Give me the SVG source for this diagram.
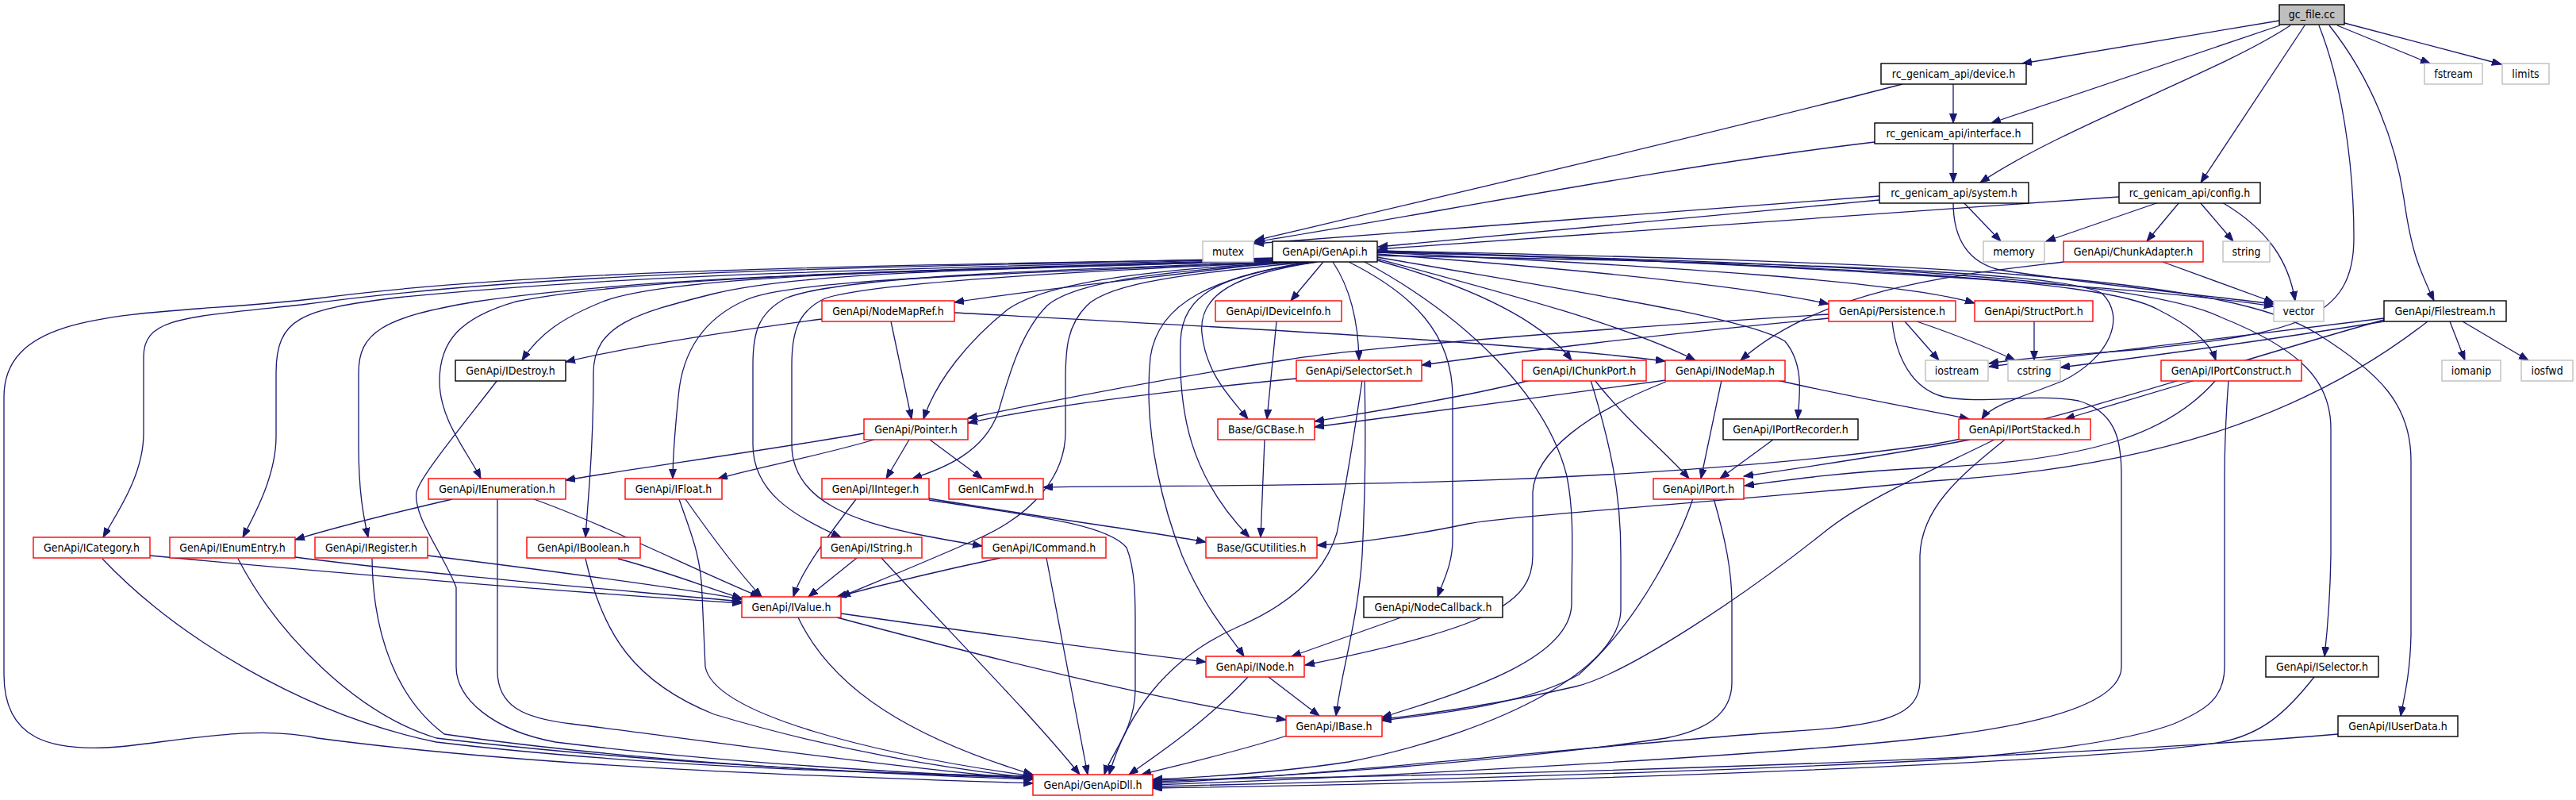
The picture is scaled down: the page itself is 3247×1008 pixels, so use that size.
<svg xmlns="http://www.w3.org/2000/svg" width="3247" height="1008" viewBox="0 0 3247 1008">
<style>
.bg{fill:#ffffff}
.n rect{fill:#ffffff;stroke-width:1.4}
.red rect{stroke:#ff0000}
.blk rect{stroke:#000000}
.gry rect{stroke:#bfbfbf}
.root rect{fill:#bfbfbf;stroke:#000000}
.n text{font-family:'DejaVu Sans Condensed','DejaVu Sans',sans-serif;font-stretch:condensed;font-size:14px;fill:#000000;text-anchor:middle}
.e path{fill:none;stroke:#191970;stroke-width:1.3;marker-end:url(#ah)}
</style>
<defs>
<marker id="ah" markerUnits="userSpaceOnUse" markerWidth="13" markerHeight="10" refX="12" refY="4.5" orient="auto">
<path d="M0,0 L12,4.5 L0,9 z" fill="#191970" stroke="#191970" stroke-width="1"/>
</marker>
</defs>
<rect class="bg" x="0" y="0" width="3247" height="1008"/>
<g id="edges" class="e">
<path d="M2873,26 L2549,80"/>
<path d="M2874,32 L2510,155"/>
<path d="M2887,32 C2800,90 2600,160 2496,230"/>
<path d="M2905,32 L2774,230"/>
<path d="M2946,32 L3063,80"/>
<path d="M2955,29 L3153,81"/>
<path d="M2923,32 C2950,100 2967,200 2967,300 C2967,400 2900,420 2700,440 C2600,448 2540,452 2507,458"/>
<path d="M2936,32 C2990,100 3020,180 3030,250 C3040,320 3050,340 3068,379"/>
<path d="M2462,106 L2462,155"/>
<path d="M2462,181 L2462,230"/>
<path d="M2398,106 C2150,170 1850,240 1582,303"/>
<path d="M2363,179 C2100,210 1800,270 1581,305"/>
<path d="M2369,247 L1581,307"/>
<path d="M2369,252 L1737,311"/>
<path d="M2671,248 L1737,314"/>
<path d="M2475,255 L2522,304"/>
<path d="M2462,255 C2462,300 2480,330 2520,340 C2650,360 2780,372 2866,383"/>
<path d="M2721,255 L2579,304"/>
<path d="M2747,255 L2706,304"/>
<path d="M2773,255 L2815,304"/>
<path d="M2801,255 C2860,290 2885,330 2893,379"/>
<path d="M2726,330 L2866,381"/>
<path d="M2601,330 C2480,345 2300,360 2194,454"/>
<path d="M1604,326 C1200,334 700,336 400,376 C200,400 5,380 5,500 L5,850 C5,930 60,950 160,940 C260,928 330,915 400,930 C700,970 1100,980 1302,987"/>
<path d="M1604,325 C1100,338 700,340 380,384 C230,400 181,400 181,450 L181,546 C181,600 145,650 130,677"/>
<path d="M1604,326 C1100,340 800,345 500,375 C380,390 348,400 348,470 L348,550 C348,600 320,650 306,677"/>
<path d="M1604,327 C1100,342 800,350 600,380 C480,400 452,420 452,470 L452,560 C452,620 458,650 464,677"/>
<path d="M1604,328 C1100,342 800,350 650,380 C580,400 554,430 554,480 C554,530 590,570 606,603"/>
<path d="M1604,329 C1200,340 850,345 760,380 C710,400 680,420 658,454"/>
<path d="M1604,329 C1200,340 1000,345 900,370 C800,395 748,410 748,470 C748,560 742,620 738,677"/>
<path d="M1606,330 C1300,345 1000,350 940,378 C890,400 860,440 855,500 C850,550 848,580 848,603"/>
<path d="M1610,330 C1500,345 1300,365 1203,381"/>
<path d="M1036,402 C900,420 780,440 713,456"/>
<path d="M1123,405 L1149,528"/>
<path d="M1203,394 C1500,410 1900,430 2099,455"/>
<path d="M1630,330 C1450,340 1320,355 1270,390 C1220,430 1180,480 1164,528"/>
<path d="M1620,330 C1300,340 1050,350 990,376 C955,395 949,420 949,460 L949,560 C949,620 1000,650 1060,677"/>
<path d="M1625,330 C1400,340 1100,355 1040,376 C1005,392 998,420 998,460 L998,560 C998,640 1100,660 1150,672 C1190,680 1220,685 1238,688"/>
<path d="M1640,330 C1500,340 1360,350 1320,385 C1285,420 1270,480 1258,520 C1240,570 1190,590 1150,603"/>
<path d="M1650,330 C1500,345 1400,355 1370,385 C1345,410 1343,440 1343,480 L1343,540 C1345,600 1300,650 1230,680 C1150,715 1100,735 1060,752"/>
<path d="M1660,330 C1560,345 1510,370 1515,420 C1520,470 1550,500 1573,528"/>
<path d="M1660,330 C1540,345 1490,370 1488,430 C1485,520 1500,600 1575,677"/>
<path d="M1650,330 C1530,350 1460,380 1450,450 C1440,550 1470,650 1490,700 C1520,770 1550,800 1568,827"/>
<path d="M1609,405 L1597,528"/>
<path d="M1668,330 L1627,379"/>
<path d="M1680,330 C1700,360 1712,400 1713,454"/>
<path d="M1700,330 C1780,370 1831,420 1831,500 L1831,680 C1831,710 1820,730 1812,752"/>
<path d="M1720,330 C1850,400 1950,500 1975,600 C1985,650 1981,700 1981,760 C1981,830 1850,870 1742,904"/>
<path d="M1736,328 C1850,360 1940,400 1981,454"/>
<path d="M1736,326 C1900,370 2050,410 2137,454"/>
<path d="M1736,324 C2000,370 2200,400 2250,430 C2275,460 2268,500 2266,528"/>
<path d="M1736,320 C2000,340 2200,360 2305,383"/>
<path d="M1736,318 C2100,335 2400,355 2489,382"/>
<path d="M1736,316 C2200,330 2700,360 2866,386"/>
<path d="M1736,317 C2300,335 2650,350 2720,390 C2760,410 2785,430 2793,454"/>
<path d="M1736,322 C2200,330 2600,340 2650,370 C2680,400 2660,450 2600,480 C2550,500 2510,510 2498,528"/>
<path d="M2385,405 C2390,450 2410,490 2450,500 C2500,510 2560,495 2620,505 C2670,520 2674,560 2674,600 L2674,840 C2674,880 2600,910 2436,929 C2200,955 1700,980 1453,989"/>
<path d="M2527,554 C2470,600 2422,640 2420,700 L2420,860 C2418,900 2380,915 2250,922 C2000,940 1700,975 1453,987"/>
<path d="M2809,479 C2806,520 2804,560 2804,600 L2804,840 C2804,880 2780,895 2740,912 C2680,935 2550,950 2436,958 C2100,975 1700,985 1453,991"/>
<path d="M2917,853 C2880,900 2850,925 2800,935 C2650,960 2000,985 1453,993"/>
<path d="M2947,925 C2600,955 2000,975 1453,983"/>
<path d="M1736,318 C2300,330 2700,350 2800,400 C2900,440 2938,480 2938,540 L2938,700 C2937,760 2933,800 2930,827"/>
<path d="M1736,316 C2400,330 2800,345 2920,420 C3000,470 3039,510 3039,580 L3039,800 C3038,850 3030,880 3026,902"/>
<path d="M2767,479 L2603,528"/>
<path d="M2240,479 C2330,500 2420,515 2482,528"/>
<path d="M2235,554 L2168,603"/>
<path d="M2170,479 L2144,603"/>
<path d="M2010,479 C2050,530 2100,570 2129,603"/>
<path d="M1929,479 C1850,500 1720,520 1657,531"/>
<path d="M2100,479 C1950,500 1750,525 1657,538"/>
<path d="M2100,481 C2000,520 1935,570 1932,620 L1932,700 C1932,760 1880,790 1645,838"/>
<path d="M2005,479 C2030,560 2043,620 2043,700 L2043,770 C2040,840 1900,920 1700,960 C1600,975 1500,980 1453,982"/>
<path d="M2134,628 C2120,670 2070,780 1990,850 C1920,890 1800,900 1742,908"/>
<path d="M2160,628 C2175,680 2183,720 2183,760 L2183,860 C2183,900 2150,920 2100,930 C1900,960 1600,980 1453,985"/>
<path d="M2793,479 C2740,540 2650,580 2436,589 C2330,594 2250,605 2199,612"/>
<path d="M2483,554 C2400,570 2280,588 2198,600"/>
<path d="M2514,554 C2420,600 2350,630 2300,670 C2200,750 2050,850 1986,865 C1900,885 1800,900 1742,906"/>
<path d="M1634,477 C1450,495 1300,515 1220,533"/>
<path d="M2305,401 C2100,420 1900,445 1792,460"/>
<path d="M2305,396 C2000,415 1700,440 1624,453 C1450,480 1300,510 1220,527"/>
<path d="M1717,479 C1705,560 1695,620 1685,672 C1670,720 1630,760 1560,790 C1470,830 1420,900 1398,976"/>
<path d="M1720,479 C1722,560 1720,640 1717,700 C1712,780 1690,850 1684,902"/>
<path d="M1594,554 L1589,677"/>
<path d="M1089,546 C950,570 800,590 713,605"/>
<path d="M1102,554 C1030,575 950,590 905,603"/>
<path d="M1146,554 L1117,603"/>
<path d="M1172,554 L1238,603"/>
<path d="M3005,403 C2800,460 2600,530 2436,560 C2000,620 1500,610 1315,614"/>
<path d="M3060,405 C2900,530 2700,590 2436,606 C2200,630 1900,650 1850,660 C1780,675 1700,685 1660,687"/>
<path d="M3088,405 L3107,454"/>
<path d="M3104,405 L3187,454"/>
<path d="M3005,401 C2800,425 2600,450 2507,462"/>
<path d="M3005,405 C2850,430 2700,450 2597,463"/>
<path d="M2401,405 L2444,454"/>
<path d="M2416,405 C2460,420 2510,440 2540,454"/>
<path d="M2564,405 L2564,454"/>
<path d="M570,629 C480,650 420,665 372,680"/>
<path d="M627,629 L627,845 C627,890 660,905 720,912 C900,935 1150,970 1302,982"/>
<path d="M673,629 C760,660 880,720 958,752"/>
<path d="M627,479 C580,540 530,600 525,620 C520,650 560,700 575,740 L575,840 C575,880 620,920 700,935 C900,960 1150,975 1302,980"/>
<path d="M189,700 C400,720 700,745 935,760"/>
<path d="M129,704 C220,800 380,900 550,935 C800,965 1100,975 1302,978"/>
<path d="M372,702 C550,725 800,745 935,758"/>
<path d="M300,704 C350,800 450,900 550,930 C800,960 1100,975 1302,980"/>
<path d="M539,700 C700,720 850,740 935,755"/>
<path d="M469,704 C470,800 500,880 560,925 C800,960 1100,975 1302,982"/>
<path d="M779,704 C840,720 890,740 935,754"/>
<path d="M738,704 C760,800 800,860 900,900 C1050,945 1200,970 1302,980"/>
<path d="M864,629 C900,680 930,720 960,752"/>
<path d="M856,629 C870,670 884,700 885,750 L889,840 C900,900 1100,950 1302,978"/>
<path d="M1079,629 C1040,680 1010,720 1000,752"/>
<path d="M1171,628 C1300,650 1450,670 1520,683"/>
<path d="M1171,630 C1300,650 1395,660 1420,690 C1432,720 1431,760 1431,800 L1431,870 C1430,920 1400,950 1392,976"/>
<path d="M1080,703 L1019,752"/>
<path d="M1111,703 C1200,800 1300,900 1361,976"/>
<path d="M1261,703 C1180,720 1100,740 1055,752"/>
<path d="M1319,703 L1371,976"/>
<path d="M1006,778 C1050,870 1150,930 1302,976"/>
<path d="M1060,773 C1250,800 1400,820 1520,834"/>
<path d="M1055,778 C1250,830 1450,880 1621,907"/>
<path d="M1599,853 L1663,902"/>
<path d="M1573,853 C1520,910 1460,950 1423,976"/>
<path d="M1622,927 C1550,950 1480,965 1439,976"/>
<path d="M1766,778 L1628,827"/>
</g>
<g id="node-gc_file" class="n root"><rect x="2873" y="6" width="82" height="25"/><text x="2914" y="23">gc_file.cc</text></g>
<g id="node-device" class="n blk"><rect x="2371" y="80" width="183" height="26"/><text x="2462.5" y="98">rc_genicam_api/device.h</text></g>
<g id="node-fstream" class="n gry"><rect x="3056" y="80" width="73" height="26"/><text x="3092.5" y="98">fstream</text></g>
<g id="node-limits" class="n gry"><rect x="3154" y="80" width="59" height="26"/><text x="3183.5" y="98">limits</text></g>
<g id="node-interface" class="n blk"><rect x="2363" y="155" width="199" height="26"/><text x="2462.5" y="173">rc_genicam_api/interface.h</text></g>
<g id="node-system" class="n blk"><rect x="2369" y="230" width="188" height="26"/><text x="2463" y="248">rc_genicam_api/system.h</text></g>
<g id="node-config" class="n blk"><rect x="2671" y="230" width="178" height="26"/><text x="2760" y="248">rc_genicam_api/config.h</text></g>
<g id="node-mutex" class="n gry"><rect x="1516" y="304" width="64" height="26"/><text x="1548" y="322">mutex</text></g>
<g id="node-GenApi" class="n blk"><rect x="1604" y="304" width="132" height="26"/><text x="1670" y="322">GenApi/GenApi.h</text></g>
<g id="node-memory" class="n gry"><rect x="2500" y="304" width="77" height="26"/><text x="2538.5" y="322">memory</text></g>
<g id="node-ChunkAdapter" class="n red"><rect x="2601" y="304" width="176" height="26"/><text x="2689" y="322">GenApi/ChunkAdapter.h</text></g>
<g id="node-string" class="n gry"><rect x="2802" y="304" width="59" height="26"/><text x="2831.5" y="322">string</text></g>
<g id="node-NodeMapRef" class="n red"><rect x="1036" y="379" width="167" height="26"/><text x="1119.5" y="397">GenApi/NodeMapRef.h</text></g>
<g id="node-IDeviceInfo" class="n red"><rect x="1532" y="379" width="159" height="26"/><text x="1611.5" y="397">GenApi/IDeviceInfo.h</text></g>
<g id="node-Persistence" class="n red"><rect x="2305" y="379" width="160" height="26"/><text x="2385" y="397">GenApi/Persistence.h</text></g>
<g id="node-StructPort" class="n red"><rect x="2489" y="379" width="149" height="26"/><text x="2563.5" y="397">GenApi/StructPort.h</text></g>
<g id="node-vector" class="n gry"><rect x="2866" y="379" width="63" height="26"/><text x="2897.5" y="397">vector</text></g>
<g id="node-Filestream" class="n blk"><rect x="3005" y="379" width="154" height="26"/><text x="3082" y="397">GenApi/Filestream.h</text></g>
<g id="node-IDestroy" class="n blk"><rect x="574" y="454" width="139" height="26"/><text x="643.5" y="472">GenApi/IDestroy.h</text></g>
<g id="node-SelectorSet" class="n red"><rect x="1634" y="454" width="158" height="26"/><text x="1713" y="472">GenApi/SelectorSet.h</text></g>
<g id="node-IChunkPort" class="n red"><rect x="1919" y="454" width="156" height="26"/><text x="1997" y="472">GenApi/IChunkPort.h</text></g>
<g id="node-INodeMap" class="n red"><rect x="2099" y="454" width="151" height="26"/><text x="2174.5" y="472">GenApi/INodeMap.h</text></g>
<g id="node-iostream" class="n gry"><rect x="2427" y="454" width="79" height="26"/><text x="2466.5" y="472">iostream</text></g>
<g id="node-cstring" class="n gry"><rect x="2531" y="454" width="66" height="26"/><text x="2564" y="472">cstring</text></g>
<g id="node-IPortConstruct" class="n red"><rect x="2724" y="454" width="177" height="26"/><text x="2812.5" y="472">GenApi/IPortConstruct.h</text></g>
<g id="node-iomanip" class="n gry"><rect x="3078" y="454" width="74" height="26"/><text x="3115" y="472">iomanip</text></g>
<g id="node-iosfwd" class="n gry"><rect x="3178" y="454" width="65" height="26"/><text x="3210.5" y="472">iosfwd</text></g>
<g id="node-Pointer" class="n red"><rect x="1089" y="528" width="131" height="26"/><text x="1154.5" y="546">GenApi/Pointer.h</text></g>
<g id="node-GCBase" class="n red"><rect x="1535" y="528" width="122" height="26"/><text x="1596" y="546">Base/GCBase.h</text></g>
<g id="node-IPortRecorder" class="n blk"><rect x="2172" y="528" width="170" height="26"/><text x="2257" y="546">GenApi/IPortRecorder.h</text></g>
<g id="node-IPortStacked" class="n red"><rect x="2469" y="528" width="166" height="26"/><text x="2552" y="546">GenApi/IPortStacked.h</text></g>
<g id="node-IEnumeration" class="n red"><rect x="540" y="603" width="173" height="26"/><text x="626.5" y="621">GenApi/IEnumeration.h</text></g>
<g id="node-IFloat" class="n red"><rect x="788" y="603" width="122" height="26"/><text x="849" y="621">GenApi/IFloat.h</text></g>
<g id="node-IInteger" class="n red"><rect x="1036" y="603" width="135" height="26"/><text x="1103.5" y="621">GenApi/IInteger.h</text></g>
<g id="node-GenICamFwd" class="n red"><rect x="1196" y="603" width="119" height="26"/><text x="1255.5" y="621">GenICamFwd.h</text></g>
<g id="node-IPort" class="n red"><rect x="2084" y="603" width="114" height="26"/><text x="2141" y="621">GenApi/IPort.h</text></g>
<g id="node-ICategory" class="n red"><rect x="42" y="677" width="147" height="26"/><text x="115.5" y="695">GenApi/ICategory.h</text></g>
<g id="node-IEnumEntry" class="n red"><rect x="214" y="677" width="158" height="26"/><text x="293" y="695">GenApi/IEnumEntry.h</text></g>
<g id="node-IRegister" class="n red"><rect x="397" y="677" width="142" height="26"/><text x="468" y="695">GenApi/IRegister.h</text></g>
<g id="node-IBoolean" class="n red"><rect x="664" y="677" width="143" height="26"/><text x="735.5" y="695">GenApi/IBoolean.h</text></g>
<g id="node-IString" class="n red"><rect x="1035" y="677" width="127" height="26"/><text x="1098.5" y="695">GenApi/IString.h</text></g>
<g id="node-ICommand" class="n red"><rect x="1238" y="677" width="156" height="26"/><text x="1316" y="695">GenApi/ICommand.h</text></g>
<g id="node-GCUtilities" class="n red"><rect x="1520" y="677" width="140" height="26"/><text x="1590" y="695">Base/GCUtilities.h</text></g>
<g id="node-IValue" class="n red"><rect x="935" y="752" width="125" height="26"/><text x="997.5" y="770">GenApi/IValue.h</text></g>
<g id="node-NodeCallback" class="n blk"><rect x="1719" y="752" width="175" height="26"/><text x="1806.5" y="770">GenApi/NodeCallback.h</text></g>
<g id="node-INode" class="n red"><rect x="1520" y="827" width="124" height="26"/><text x="1582" y="845">GenApi/INode.h</text></g>
<g id="node-ISelector" class="n blk"><rect x="2856" y="827" width="142" height="26"/><text x="2927" y="845">GenApi/ISelector.h</text></g>
<g id="node-IBase" class="n red"><rect x="1621" y="902" width="121" height="26"/><text x="1681.5" y="920">GenApi/IBase.h</text></g>
<g id="node-IUserData" class="n blk"><rect x="2947" y="902" width="151" height="26"/><text x="3022.5" y="920">GenApi/IUserData.h</text></g>
<g id="node-GenApiDll" class="n red"><rect x="1302" y="976" width="151" height="26"/><text x="1377.5" y="994">GenApi/GenApiDll.h</text></g>
</svg>
